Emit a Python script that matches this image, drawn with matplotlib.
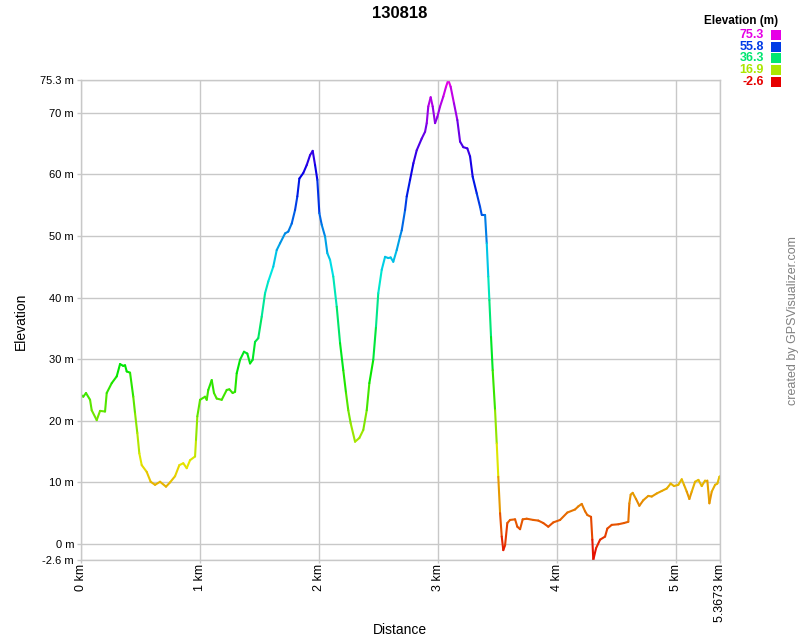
import numpy as np
import matplotlib
matplotlib.use("Agg")
import matplotlib.pyplot as plt
from matplotlib.collections import LineCollection
from matplotlib.colors import ListedColormap, Normalize, hsv_to_rgb
from matplotlib.patches import Rectangle

plt.rcParams['font.family'] = ['Liberation Sans', 'DejaVu Sans']

title = "130818"
dist_km = [0.000, 0.019, 0.042, 0.076, 0.090, 0.132, 0.160, 0.202, 0.216, 0.258,
           0.300, 0.328, 0.355, 0.370, 0.384, 0.412, 0.439, 0.454, 0.473, 0.490,
           0.510, 0.552, 0.585, 0.622, 0.664, 0.714, 0.748, 0.790, 0.826, 0.859,
           0.888, 0.916, 0.958, 0.966, 0.977, 1.000, 1.042, 1.056, 1.069, 1.098,
           1.117, 1.140, 1.182, 1.224, 1.246, 1.274, 1.294, 1.308, 1.336, 1.369,
           1.397, 1.420, 1.442, 1.462, 1.489, 1.518, 1.546, 1.573, 1.615, 1.644,
           1.672, 1.714, 1.741, 1.770, 1.798, 1.817, 1.834, 1.867, 1.896, 1.924,
           1.946, 1.966, 1.985, 2.002, 2.022, 2.050, 2.069, 2.092, 2.119, 2.148,
           2.176, 2.203, 2.226, 2.245, 2.265, 2.302, 2.338, 2.371, 2.400, 2.422,
           2.455, 2.478, 2.497, 2.526, 2.554, 2.581, 2.601, 2.623, 2.652, 2.680,
           2.694, 2.722, 2.736, 2.764, 2.792, 2.820, 2.862, 2.890, 2.904, 2.917,
           2.937, 2.954, 2.974, 2.993, 3.016, 3.043, 3.066, 3.085, 3.105, 3.133,
           3.161, 3.184, 3.211, 3.245, 3.268, 3.290, 3.324, 3.352, 3.366, 3.394,
           3.408, 3.421, 3.430, 3.444, 3.458, 3.478, 3.492, 3.505, 3.520, 3.534,
           3.547, 3.562, 3.581, 3.604, 3.646, 3.665, 3.688, 3.710, 3.744, 3.799,
           3.841, 3.883, 3.925, 3.967, 4.024, 4.085, 4.150, 4.177, 4.206, 4.234,
           4.253, 4.284, 4.295, 4.303, 4.326, 4.360, 4.402, 4.421, 4.458, 4.514,
           4.561, 4.597, 4.606, 4.617, 4.634, 4.662, 4.690, 4.723, 4.765, 4.794,
           4.836, 4.878, 4.920, 4.953, 4.981, 5.017, 5.046, 5.065, 5.088, 5.110,
           5.130, 5.158, 5.186, 5.214, 5.242, 5.261, 5.278, 5.298, 5.326, 5.345,
           5.362, 5.367]
elev_m = [24.2, 23.9, 24.5, 23.4, 21.7, 20.1, 21.6, 21.5, 24.5, 26.1,
          27.2, 29.2, 28.9, 29.0, 28.0, 27.8, 23.9, 21.2, 18.0, 14.7,
          12.8, 11.7, 10.1, 9.6, 10.1, 9.3, 10.0, 11.0, 12.8, 13.1,
          12.3, 13.6, 14.2, 16.9, 20.7, 23.4, 23.9, 23.4, 25.0, 26.6,
          24.5, 23.6, 23.4, 25.0, 25.1, 24.5, 24.7, 27.7, 29.9, 31.2,
          30.9, 29.3, 29.9, 32.8, 33.4, 36.9, 40.7, 42.6, 45.0, 47.7,
          48.8, 50.4, 50.7, 52.0, 54.2, 56.4, 59.3, 60.2, 61.5, 63.1,
          63.8, 61.5, 59.1, 53.7, 51.8, 49.9, 47.2, 46.1, 43.4, 38.5,
          32.6, 28.2, 24.5, 21.7, 19.6, 16.6, 17.2, 18.5, 21.7, 26.1,
          29.9, 35.3, 40.7, 44.5, 46.6, 46.4, 46.5, 45.8, 47.7, 49.9,
          50.9, 54.2, 56.4, 59.1, 61.8, 63.9, 65.8, 66.9, 68.3, 71.0,
          72.5, 71.0, 68.3, 69.3, 71.0, 72.6, 74.2, 75.3, 74.2, 71.5,
          68.8, 65.3, 64.4, 64.2, 62.9, 59.6, 56.9, 54.7, 53.4, 53.4,
          48.8, 43.4, 39.6, 33.6, 28.2, 21.7, 16.3, 10.9, 5.0, 1.2,
          -1.0, -0.2, 3.4, 3.9, 4.0, 2.8, 2.4, 4.0, 4.1, 3.9,
          3.8, 3.4, 2.8, 3.5, 3.9, 5.1, 5.6, 6.1, 6.5, 5.3,
          4.7, 4.4, 0.7, -2.6, -0.7, 0.7, 1.2, 2.5, 3.1, 3.2,
          3.4, 3.6, 6.6, 8.0, 8.3, 7.3, 6.2, 7.1, 7.8, 7.7,
          8.2, 8.6, 9.0, 9.8, 9.4, 9.6, 10.5, 9.6, 8.5, 7.3,
          8.5, 10.1, 10.4, 9.4, 10.3, 10.3, 6.6, 8.5, 9.6, 9.8,
          10.9, 11.0]

y_min, y_max = -2.6, 75.3
x_max = 5.3673
y_ticks = [-2.6, 0, 10, 20, 30, 40, 50, 60, 70, 75.3]
y_tick_labels = ["-2.6 m", "0 m", "10 m", "20 m", "30 m", "40 m", "50 m", "60 m", "70 m", "75.3 m"]
x_ticks = [0, 1, 2, 3, 4, 5, 5.3673]
x_tick_labels = ["0 km", "1 km", "2 km", "3 km", "4 km", "5 km", "5.3673 km"]
legend_values = [75.3, 55.8, 36.3, 16.9, -2.6]
legend_labels = ["75.3", "55.8", "36.3", "16.9", "-2.6"]

# rainbow colormap red -> magenta
hues = np.linspace(0, 300 / 360, 256)
hsv = np.stack([hues, np.ones_like(hues), np.full_like(hues, 0.9)], axis=1)
cmap = ListedColormap(hsv_to_rgb(hsv))
norm = Normalize(y_min, y_max)

W, H = 800, 640
fig = plt.figure(figsize=(8, 6.4), dpi=100)
ax = fig.add_axes([81 / W, 1 - 560 / H, (720 - 81) / W, (560 - 80) / H])

x = np.array(dist_km)
y = np.array(elev_m)
pts = np.column_stack([x, y]).reshape(-1, 1, 2)
segs = np.concatenate([pts[:-1], pts[1:]], axis=1)
lc = LineCollection(segs, cmap=cmap, norm=norm, linewidths=1.5, capstyle='round', joinstyle='round')
lc.set_array((y[:-1] + y[1:]) / 2)
ax.add_collection(lc)

ax.set_xlim(0, x_max)
ax.set_ylim(y_min, y_max)
ax.set_yticks(y_ticks)
ax.set_yticklabels(y_tick_labels, fontsize=8)
ax.set_xticks(x_ticks)
ax.set_xticklabels(x_tick_labels, fontsize=9, rotation=90, va='top')
ax.grid(True, color='#c8c8c8', linewidth=1)
ax.set_axisbelow(True)
for s in ax.spines.values():
    s.set_color('#c8c8c8')
    s.set_linewidth(1)
ax.tick_params(axis='y', color='#c8c8c8', length=3, width=1, pad=2)
ax.tick_params(axis='x', color='#c8c8c8', length=2, width=1, pad=1)

fig.text(400 / W, 1 - 13 / H, title, ha='center', va='center', fontsize=12, fontweight='bold')
fig.text(21 / W, 1 - 321 / H, "Elevation", rotation=90, ha='center', va='center', fontsize=10)
fig.text(400 / W, 1 - 630 / H, "Distance", ha='center', va='center', fontsize=10)
fig.text(793 / W, 1 - 321 / H, "created by GPSVisualizer.com", rotation=90,
         ha='center', va='center', fontsize=9, color='#808080')

fig.text(778 / W, 1 - 21 / H, "Elevation (m)", ha='right', va='center', fontsize=8.5, fontweight='bold')
for i, (v, lab) in enumerate(zip(legend_values, legend_labels)):
    yc = 35 + i * 11.7
    col = cmap(norm(v))
    fig.text(764 / W, 1 - yc / H, lab, ha='right', va='center', fontsize=9,
             fontweight='bold', color=col)
    fig.patches.append(Rectangle((771 / W, 1 - (yc + 5) / H), 10 / W, 10 / H,
                                 transform=fig.transFigure, facecolor=col,
                                 edgecolor='none', figure=fig))

fig.savefig("out.png", dpi=100)
